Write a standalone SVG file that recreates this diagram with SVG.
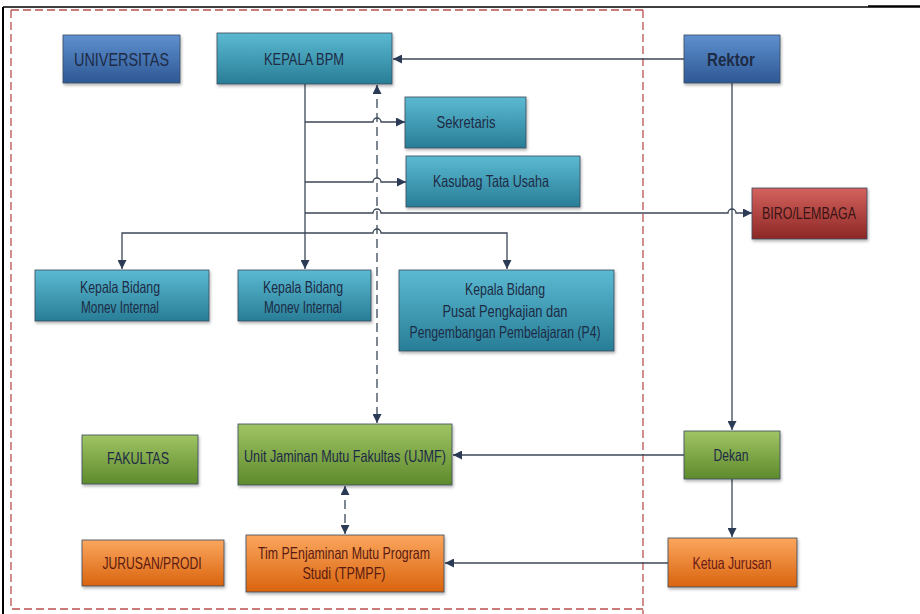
<svg xmlns="http://www.w3.org/2000/svg" width="920" height="614" viewBox="0 0 920 614">
<defs>
<linearGradient id="gBlue" x1="0" y1="0" x2="0" y2="1"><stop offset="0" stop-color="#5f90cf"/><stop offset="1" stop-color="#2d5894"/></linearGradient>
<linearGradient id="gTeal" x1="0" y1="0" x2="0" y2="1"><stop offset="0" stop-color="#5bbad2"/><stop offset="1" stop-color="#287d96"/></linearGradient>
<linearGradient id="gGreen" x1="0" y1="0" x2="0" y2="1"><stop offset="0" stop-color="#a0c464"/><stop offset="1" stop-color="#5e8a2c"/></linearGradient>
<linearGradient id="gOrange" x1="0" y1="0" x2="0" y2="1"><stop offset="0" stop-color="#fba65e"/><stop offset="1" stop-color="#d9640e"/></linearGradient>
<linearGradient id="gRed" x1="0" y1="0" x2="0" y2="1"><stop offset="0" stop-color="#d4625e"/><stop offset="1" stop-color="#8c2825"/></linearGradient>
<filter id="sh" x="-10%" y="-10%" width="130%" height="140%"><feDropShadow dx="1" dy="2" stdDeviation="1.5" flood-color="#000" flood-opacity="0.3"/></filter>
<marker id="ar" markerUnits="userSpaceOnUse" viewBox="0 0 10 10" refX="10" refY="5" markerWidth="10" markerHeight="9" orient="auto-start-reverse"><path d="M0,0 L10,5 L0,10 z" fill="#2b3a55"/></marker>
</defs>
<style>
.box{stroke:#3a4a5c;stroke-width:0.8;filter:url(#sh)}
.t{font-family:"Liberation Sans",Arial,sans-serif;font-size:16.5px;fill:#1d2b45;text-anchor:middle;dominant-baseline:central}
.c{fill:none;stroke:#3b4757;stroke-width:1.3}
.d{fill:none;stroke:#3b4757;stroke-width:1.3;stroke-dasharray:9 5}
.rd{fill:none;stroke:#b9524f;stroke-width:1.3;stroke-dasharray:8 4}
</style>
<rect width="920" height="614" fill="#fff"/>
<!-- frame -->
<path d="M3,7 H868" stroke="#000" stroke-width="1.5" fill="none"/>
<path d="M868,6.5 H920" stroke="#000" stroke-width="2.5" fill="none"/>
<path d="M3,7 V614" stroke="#000" stroke-width="2" fill="none"/>
<!-- red dashed region -->
<path class="rd" d="M11,10 H643 M11,10 V609 H643 M643,10 V614"/>

<g id="connectors">
<path class="d" d="M377,85 V423" marker-start="url(#ar)" marker-end="url(#ar)"/>
<path class="d" d="M345,486 V534" marker-start="url(#ar)" marker-end="url(#ar)"/>
<path class="c" d="M684,59 H393" marker-end="url(#ar)"/>
<path class="c" d="M305,84 V269" marker-end="url(#ar)"/>
<path class="c" d="M305,122 H373 a4,4 0 0 1 8,0 H405" marker-end="url(#ar)"/>
<path class="c" d="M305,182 H373 a4,4 0 0 1 8,0 H406" marker-end="url(#ar)"/>
<path class="c" d="M305,213 H373 a4,4 0 0 1 8,0 H728 a4,4 0 0 1 8,0 H752" marker-end="url(#ar)"/>
<path class="c" d="M305,233 H122 V269" marker-end="url(#ar)"/>
<path class="c" d="M305,233 H373 a4,4 0 0 1 8,0 H507 V269" marker-end="url(#ar)"/>
<path class="c" d="M732,83 V430" marker-end="url(#ar)"/>
<path class="c" d="M684,455 H453" marker-end="url(#ar)"/>
<path class="c" d="M732,479 V537" marker-end="url(#ar)"/>
<path class="c" d="M668,563 H445" marker-end="url(#ar)"/>
</g>

<g id="universitas"><rect class="box" x="63" y="35" width="117" height="48" fill="url(#gBlue)"/><text class="t" x="121.5" y="59" style="font-size:19px" textLength="95" lengthAdjust="spacingAndGlyphs">UNIVERSITAS</text></g>
<g id="kepala-bpm"><rect class="box" x="217" y="33" width="175" height="51" fill="url(#gTeal)"/><text class="t" x="304" y="59" textLength="80" lengthAdjust="spacingAndGlyphs">KEPALA BPM</text></g>
<g id="rektor"><rect class="box" x="684" y="35" width="96" height="48" fill="url(#gBlue)"/><text class="t" x="731" y="59" style="font-size:19px;font-weight:bold" textLength="48" lengthAdjust="spacingAndGlyphs">Rektor</text></g>
<g id="sekretaris"><rect class="box" x="405" y="97" width="121" height="51" fill="url(#gTeal)"/><text class="t" x="466" y="122" textLength="59" lengthAdjust="spacingAndGlyphs">Sekretaris</text></g>
<g id="kasubag"><rect class="box" x="406" y="156" width="174" height="51" fill="url(#gTeal)"/><text class="t" x="491" y="181" textLength="116" lengthAdjust="spacingAndGlyphs">Kasubag Tata Usaha</text></g>
<g id="biro"><rect class="box" x="752" y="188" width="115" height="51" fill="url(#gRed)"/><text class="t" x="809" y="213" style="fill:#3a1414" textLength="94" lengthAdjust="spacingAndGlyphs">BIRO/LEMBAGA</text></g>
<g id="kabid1"><rect class="box" x="35" y="270" width="174" height="51" fill="url(#gTeal)"/><text class="t" x="120" y="287" textLength="80" lengthAdjust="spacingAndGlyphs">Kepala Bidang</text><text class="t" x="120" y="307" textLength="78" lengthAdjust="spacingAndGlyphs">Monev Internal</text></g>
<g id="kabid2"><rect class="box" x="238" y="270" width="133" height="51" fill="url(#gTeal)"/><text class="t" x="303" y="287" textLength="80" lengthAdjust="spacingAndGlyphs">Kepala Bidang</text><text class="t" x="303" y="307" textLength="78" lengthAdjust="spacingAndGlyphs">Monev Internal</text></g>
<g id="kabid-p4"><rect class="box" x="399" y="270" width="215" height="81" fill="url(#gTeal)"/><text class="t" x="505" y="289" textLength="80" lengthAdjust="spacingAndGlyphs">Kepala Bidang</text><text class="t" x="505" y="311" textLength="125" lengthAdjust="spacingAndGlyphs">Pusat Pengkajian dan</text><text class="t" x="505" y="332" textLength="191" lengthAdjust="spacingAndGlyphs">Pengembangan Pembelajaran (P4)</text></g>
<g id="fakultas"><rect class="box" x="82" y="435" width="116" height="49" fill="url(#gGreen)"/><text class="t" x="138" y="458" textLength="62" lengthAdjust="spacingAndGlyphs">FAKULTAS</text></g>
<g id="ujmf"><rect class="box" x="238" y="424" width="214" height="61" fill="url(#gGreen)"/><text class="t" x="345" y="456" textLength="202" lengthAdjust="spacingAndGlyphs">Unit Jaminan Mutu Fakultas (UJMF)</text></g>
<g id="dekan"><rect class="box" x="684" y="431" width="96" height="48" fill="url(#gGreen)"/><text class="t" x="731" y="455" textLength="35" lengthAdjust="spacingAndGlyphs">Dekan</text></g>
<g id="jurusan"><rect class="box" x="82" y="540" width="142" height="46" fill="url(#gOrange)"/><text class="t" x="152" y="563" style="fill:#5a1a10" textLength="99" lengthAdjust="spacingAndGlyphs">JURUSAN/PRODI</text></g>
<g id="tpmpf"><rect class="box" x="246" y="535" width="198" height="57" fill="url(#gOrange)"/><text class="t" x="344" y="553" style="fill:#5a1a10" textLength="172" lengthAdjust="spacingAndGlyphs">Tim PEnjaminan Mutu Program</text><text class="t" x="344" y="573" style="fill:#5a1a10" textLength="83" lengthAdjust="spacingAndGlyphs">Studi (TPMPF)</text></g>
<g id="ketua"><rect class="box" x="668" y="538" width="129" height="49" fill="url(#gOrange)"/><text class="t" x="732" y="563" style="fill:#6a1a14" textLength="79" lengthAdjust="spacingAndGlyphs">Ketua Jurusan</text></g>
</svg>
